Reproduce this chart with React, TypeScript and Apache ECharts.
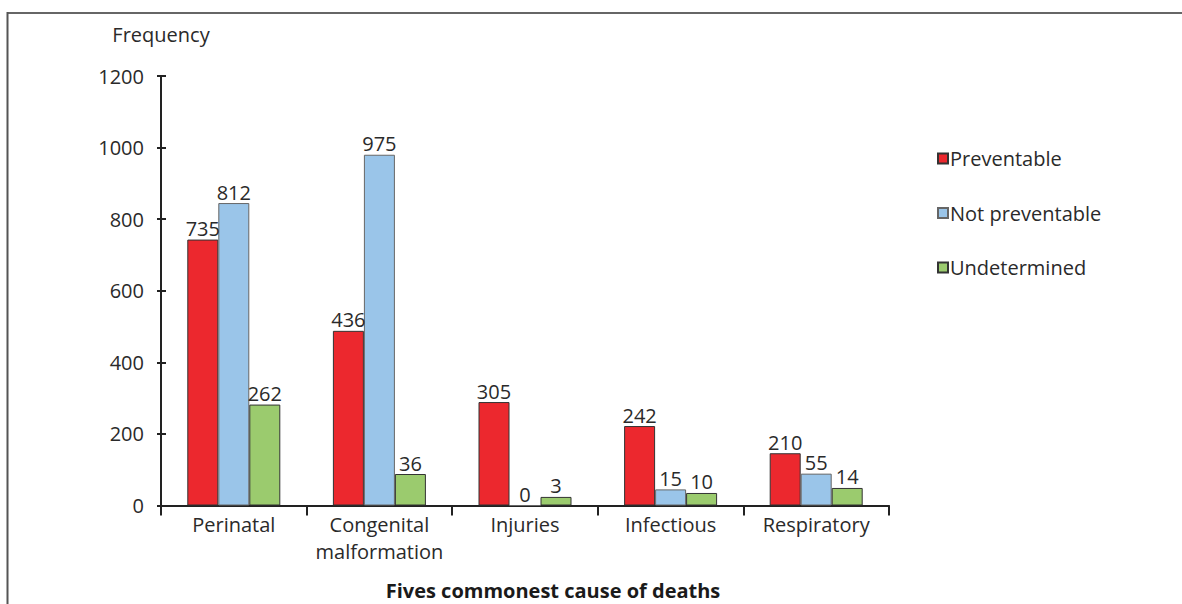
import React, { useEffect, useRef } from "react";
import * as echarts from "echarts";

const categories = ["Perinatal", "Congenital\nmalformation", "Injuries", "Infectious", "Respiratory"];
const seriesNames = ["Preventable", "Not preventable", "Undetermined"];
// bar heights as drawn in the picture
const preventableBars = [743, 488, 289, 222, 146];
const notPreventableBars = [845, 980, 0, 45, 89];
const undeterminedBars = [282, 88, 24, 35, 49];
// values printed above the bars
const preventableLabels = [735, 436, 305, 242, 210];
const notPreventableLabels = [812, 975, 0, 15, 55];
const undeterminedLabels = [262, 36, 3, 10, 14];
const yTicks = { min: 0, max: 1200, interval: 200 };

const FONT = "'Open Sans', sans-serif";
const TEXT = "#2a2a2a";

export default function App() {
  const ref = useRef<HTMLDivElement>(null);
  useEffect(() => {
    if (!ref.current) return;
    const chart = echarts.init(ref.current, null, { renderer: "svg" });
    const mk = (name: string, bars: number[], labels: number[], color: string, border: string) => ({
      name,
      type: "bar",
      yAxisIndex: 0,
      data: bars,
      barWidth: 31,
      barGap: "0%",
      itemStyle: { color, borderColor: border, borderWidth: 1 },
      label: {
        show: true,
        position: "top",
        distance: 1,
        color: TEXT,
        fontFamily: FONT,
        fontSize: 20,
        formatter: (p: any) => String(labels[p.dataIndex]),
      },
    });
    chart.setOption({
      animation: false,
      textStyle: { fontFamily: FONT },
      grid: { left: 161, right: 293, top: 76, bottom: 98.5, containLabel: false },
      legend: {
        orient: "vertical",
        left: 937,
        top: 148.5,
        padding: 0,
        itemWidth: 10,
        itemHeight: 10,
        itemGap: 34.5,
        icon: "rect",
        textStyle: { fontFamily: FONT, fontSize: 20, color: TEXT, padding: [0, 0, 0, -3] },
        data: seriesNames,
      },
      xAxis: {
        type: "category",
        data: categories,
        axisLine: { show: true, lineStyle: { color: "#222", width: 2 } },
        axisTick: { show: true, length: 10, lineStyle: { color: "#222", width: 2 } },
        axisLabel: {
          margin: 5,
          color: TEXT,
          fontFamily: FONT,
          fontSize: 20,
          lineHeight: 27,
          interval: 0,
        },
        splitLine: { show: false },
      },
      yAxis: [
        {
          type: "value",
          ...yTicks,
          name: "Frequency",
          nameLocation: "end",
          nameGap: 32,
          nameTextStyle: { color: TEXT, fontFamily: FONT, fontSize: 20, align: "center" },
          axisLine: { show: true, lineStyle: { color: "#222", width: 2 } },
          axisTick: { show: true, length: 4, lineStyle: { color: "#222", width: 2 } },
          axisLabel: {
            margin: 17,
            color: TEXT,
            fontFamily: FONT,
            fontSize: 20,
            formatter: (v: number) => String(v),
          },
          splitLine: { show: false },
        },
        {
          type: "value",
          ...yTicks,
          position: "left",
          axisLine: { show: false },
          axisTick: { show: true, inside: true, length: 5, lineStyle: { color: "#222", width: 2 } },
          axisLabel: { show: false },
          splitLine: { show: false },
        },
      ],
      series: [
        mk(seriesNames[0], preventableBars, preventableLabels, "#EC282E", "#333333"),
        mk(seriesNames[1], notPreventableBars, notPreventableLabels, "#9AC5E9", "#666666"),
        mk(seriesNames[2], undeterminedBars, undeterminedLabels, "#9BCB6E", "#333333"),
      ],
      graphic: [
        {
          type: "line",
          shape: { x1: 7, y1: 13, x2: 1182, y2: 13 },
          style: { stroke: "#666666", lineWidth: 2 },
        },
        {
          type: "line",
          shape: { x1: 7.5, y1: 12, x2: 7.5, y2: 604 },
          style: { stroke: "#555555", lineWidth: 2 },
        },
        {
          type: "text",
          x: 553,
          y: 590,
          style: {
            text: "Fives commonest cause of deaths",
            fontFamily: FONT,
            fontSize: 20,
            fontWeight: "bold",
            fill: "#1a1a1a",
            textAlign: "center",
            textVerticalAlign: "middle",
          },
        },
      ],
    });
    return () => chart.dispose();
  }, []);
  return (
    <div
      ref={ref}
      style={{ position: "fixed", left: 0, top: 0, width: 1182, height: 604, background: "#fff" }}
    />
  );
}
